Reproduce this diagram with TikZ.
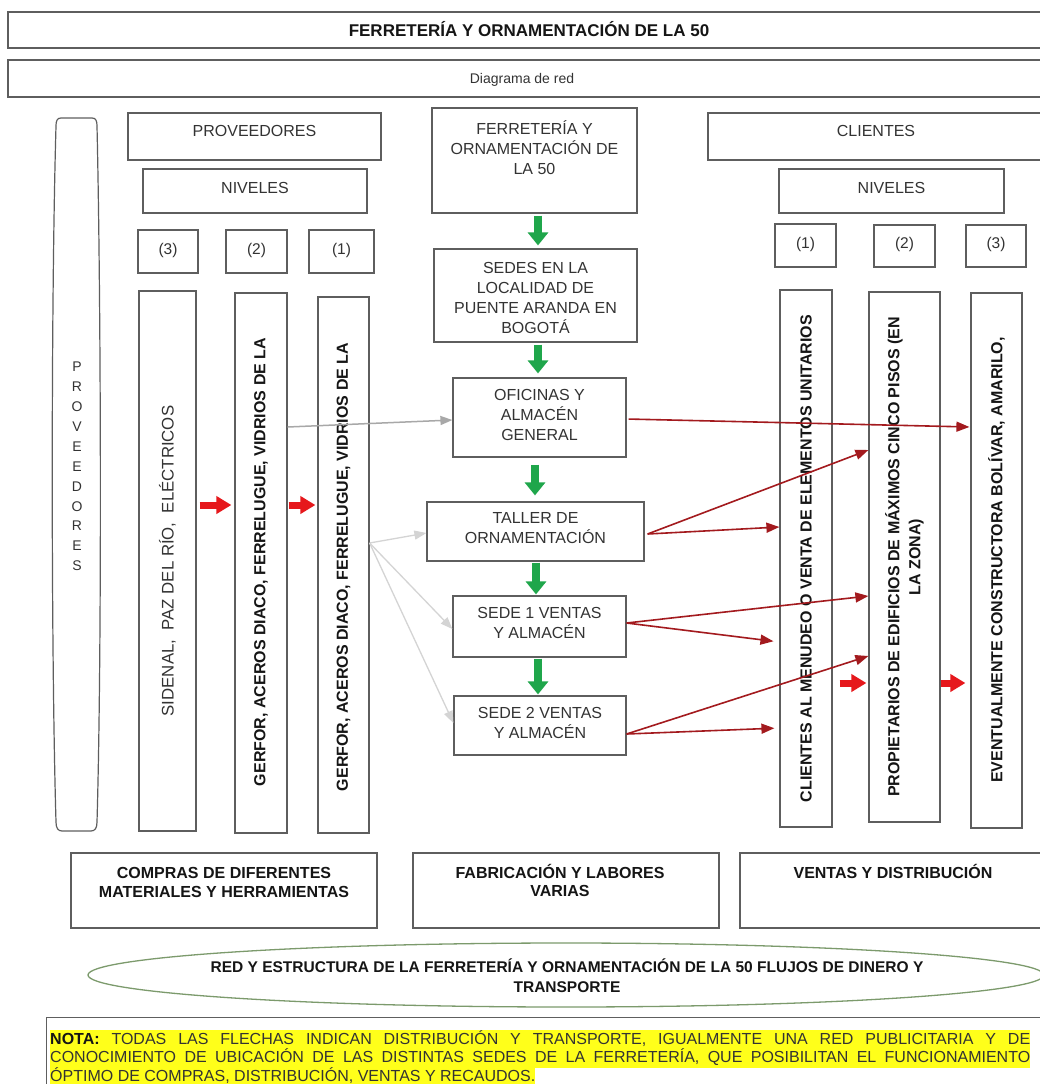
\documentclass[tikz,border=0pt]{standalone}
\usepackage{fontspec}
\setmainfont{Liberation Sans}
\usetikzlibrary{arrows.meta,shapes.geometric}

\definecolor{boxline}{HTML}{5E5E5E}
\definecolor{txtcol}{HTML}{333333}
\definecolor{txtdark}{HTML}{151515}
\definecolor{flowred}{HTML}{A31A1E}
\definecolor{blockred}{HTML}{E6181C}
\definecolor{blockgreen}{HTML}{1FA64B}
\definecolor{feedgray}{HTML}{A8A8A8}
\definecolor{feedlight}{HTML}{D4D4D4}
\definecolor{ovalgreen}{HTML}{7C9A6C}
\definecolor{notehl}{HTML}{FFFF1A}

\newcommand{\setfs}[2]{\fontsize{#1}{#2}\selectfont}
\setlength{\fboxsep}{0pt}

\begin{document}
\begin{tikzpicture}[x=1pt, y=-1pt,
  frame/.style={draw=boxline, line width=1.2pt, inner sep=0pt},
  txt/.style={inner sep=0pt, text=txtcol, align=center, font=\setfs{16}{20}},
  btxt/.style={inner sep=0pt, text=txtdark, align=center, font=\setfs{16}{20}\bfseries},
  onbase/.style={anchor=base},
  flow/.style={draw=flowred, line width=1.6pt, -{Triangle[length=13pt,width=10pt]}},
  feed/.style={draw=feedgray, line width=1.5pt, -{Triangle[length=12pt,width=9pt]}},
  feedl/.style={draw=feedlight, line width=1.3pt, -{Triangle[length=12pt,width=9pt]}},
  gblock/.style={draw=blockgreen, line width=8pt, -{Triangle[length=13pt,width=20pt]}},
  rblock/.style={draw=blockred, line width=7pt, -{Triangle[length=15pt,width=17pt]}},
]
\fill[white] (0,0) rectangle (1040,1084);
\useasboundingbox (0,0) rectangle (1040,1084);

% ---------- heading bars ----------
\node[frame, minimum width=1034pt, minimum height=36pt] (title) at (525,30) {};
\node[btxt, onbase, font=\setfs{17}{20}\bfseries] (titleT) at (529,36) {FERRETERÍA Y ORNAMENTACIÓN DE LA 50};
\node[frame, minimum width=1034pt, minimum height=37pt] (diag) at (525,78.5) {};
\node[txt, onbase, font=\setfs{14}{18}] (diagT) at (522,83) {Diagrama de red};

% ---------- suppliers side ----------
\draw[boxline, line width=1.2pt]
  (61,118) -- (92,118) .. controls (96,118) and (97,121) .. (97,126)
  .. controls (101,300) and (102,650) .. (97,822)
  .. controls (97,828) and (95,831) .. (91,831) -- (62,831)
  .. controls (58,831) and (56,828) .. (56,822)
  .. controls (51,650) and (51,300) .. (56,126)
  .. controls (56,121) and (57,118) .. (61,118) -- cycle;
\node[txt, font=\setfs{14}{19.9}] (capT) at (77,466.5) {P\\R\\O\\V\\E\\E\\D\\O\\R\\E\\S};

\node[frame, minimum width=253pt, minimum height=47pt] (provH) at (254.5,136.5) {};
\node[txt, onbase] (provHT) at (254.5,136.7) {PROVEEDORES};
\node[frame, minimum width=224pt, minimum height=44pt] (nivL) at (255,191) {};
\node[txt, onbase] (nivLT) at (255,193.7) {NIVELES};
\node[frame, minimum width=60pt, minimum height=43pt] (lv3) at (168,251.5) {};
\node[txt, onbase, font=\setfs{15.5}{18}] (lv3T) at (168,254.5) {(3)};
\node[frame, minimum width=61pt, minimum height=43pt] (lv2) at (256.5,251.5) {};
\node[txt, onbase, font=\setfs{15.5}{18}] (lv2T) at (256.5,254.5) {(2)};
\node[frame, minimum width=65pt, minimum height=43pt] (lv1) at (341.5,251.5) {};
\node[txt, onbase, font=\setfs{15.5}{18}] (lv1T) at (341.5,254.5) {(1)};

\node[frame, minimum width=57pt, minimum height=540pt] (sid) at (167.5,561) {};
\node[txt, rotate=90, font=\setfs{16.8}{20}] (sidT) at (sid.center) {SIDENAL,\ \ PAZ DEL RÍO,\ \ ELÉCTRICOS};
\node[frame, minimum width=52pt, minimum height=540pt] (g2) at (261,563) {};
\node[btxt, rotate=90] (g2T) at (261,562) {GERFOR, ACEROS DIACO, FERRELUGUE, VIDRIOS DE LA};
\node[frame, minimum width=51pt, minimum height=536pt] (g1) at (343.5,565) {};
\node[btxt, rotate=90] (g1T) at (343.5,567) {GERFOR, ACEROS DIACO, FERRELUGUE, VIDRIOS DE LA};

% ---------- company column ----------
\node[frame, minimum width=205pt, minimum height=105pt] (mid1) at (534.5,160.5) {};
\node[txt] (mid1T) at (534.5,147.5) {FERRETERÍA Y\\ORNAMENTACIÓN DE\\LA 50};
\node[frame, minimum width=203pt, minimum height=93pt] (sedes) at (535.5,295.5) {};
\node[txt] (sedesT) at (535.5,297.5) {SEDES EN LA\\LOCALIDAD DE\\PUENTE ARANDA EN\\BOGOTÁ};
\node[frame, minimum width=173pt, minimum height=79pt] (ofic) at (539.5,417.5) {};
\node[txt] (oficT) at (539.5,415) {OFICINAS Y\\ALMACÉN\\GENERAL};
\node[frame, minimum width=217pt, minimum height=59pt] (taller) at (535.5,531.5) {};
\node[txt] (tallerT) at (535.5,528) {TALLER DE\\ORNAMENTACIÓN};
\node[frame, minimum width=173pt, minimum height=61pt] (sede1) at (539.5,626.5) {};
\node[txt] (sede1T) at (539.5,623) {SEDE 1 VENTAS\\Y ALMACÉN};
\node[frame, minimum width=172pt, minimum height=59pt] (sede2) at (540,725.5) {};
\node[txt] (sede2T) at (540,723) {SEDE 2 VENTAS\\Y ALMACÉN};

% ---------- customers side ----------
\node[frame, minimum width=334pt, minimum height=47pt] (cliH) at (875,136.5) {};
\node[txt, onbase] (cliHT) at (876,136.7) {CLIENTES};
\node[frame, minimum width=225pt, minimum height=44pt] (nivR) at (891.5,191) {};
\node[txt, onbase] (nivRT) at (891.5,193.7) {NIVELES};
\node[frame, minimum width=61pt, minimum height=43pt] (rv1) at (805.5,245.5) {};
\node[txt, onbase, font=\setfs{15.5}{18}] (rv1T) at (805.5,248.5) {(1)};
\node[frame, minimum width=61pt, minimum height=42pt] (rv2) at (904.5,246) {};
\node[txt, onbase, font=\setfs{15.5}{18}] (rv2T) at (904.5,248.5) {(2)};
\node[frame, minimum width=60pt, minimum height=42pt] (rv3) at (996,246) {};
\node[txt, onbase, font=\setfs{15.5}{18}] (rv3T) at (996,248.5) {(3)};

\node[frame, minimum width=52pt, minimum height=537pt] (cliV) at (806,558.5) {};
\node[btxt, rotate=90] (cliVT) at (806,558.5) {CLIENTES AL MENUDEO O VENTA DE ELEMENTOS UNITARIOS};
\node[frame, minimum width=71pt, minimum height=530pt] (propV) at (904.5,557) {};
\node[btxt, rotate=90, font=\setfs{16}{21}\bfseries] (propVT) at (904.5,557) {PROPIETARIOS DE EDIFICIOS DE MÁXIMOS CINCO PISOS (EN\\LA ZONA)};
\node[frame, minimum width=51pt, minimum height=535pt] (evenV) at (996.5,560.5) {};
\node[btxt, rotate=90] (evenVT) at (996.5,560) {EVENTUALMENTE CONSTRUCTORA BOLÍVAR, AMARILO,};

% ---------- stage boxes ----------
\node[frame, minimum width=306pt, minimum height=75pt] (compras) at (224,890.5) {};
\node[btxt, font=\setfs{16}{19}\bfseries] (comprasT) at (224,882.5) {COMPRAS DE DIFERENTES\\MATERIALES Y HERRAMIENTAS};
\node[frame, minimum width=306pt, minimum height=75pt] (fabric) at (566,890.5) {};
\node[btxt, font=\setfs{16}{18}\bfseries] (fabricT) at (560,880.5) {FABRICACIÓN Y LABORES\\VARIAS};
\node[frame, minimum width=302pt, minimum height=75pt] (ventas) at (891,890.5) {};
\node[btxt, onbase] (ventasT) at (893,878.7) {VENTAS Y DISTRIBUCIÓN};

\node[draw=ovalgreen, line width=1.3pt, ellipse, inner sep=0pt, minimum width=956pt, minimum height=64pt] (oval) at (566,975) {};
\node[btxt, font=\setfs{15.5}{20}\bfseries] (ovalT) at (567,975.5) {RED Y ESTRUCTURA DE LA FERRETERÍA Y ORNAMENTACIÓN DE LA 50 FLUJOS DE DINERO Y\\TRANSPORTE};

% ---------- note ----------
\node[frame, anchor=north west, minimum width=1000pt, minimum height=90pt] (notebox) at (46,1017) {};
\node[anchor=north west, inner sep=0pt, text=txtcol, font=\setfs{16}{16.6}] (noteT) at (50,1030)
  {\vbox{\offinterlineskip
   \hbox{\colorbox{notehl}{\strut\makebox[980pt][s]{\textcolor{txtdark}{\bfseries NOTA:} TODAS LAS FLECHAS INDICAN DISTRIBUCIÓN Y TRANSPORTE, IGUALMENTE UNA RED PUBLICITARIA Y DE}}}
   \hbox{\colorbox{notehl}{\strut\makebox[980pt][s]{CONOCIMIENTO DE UBICACIÓN DE LAS DISTINTAS SEDES DE LA FERRETERÍA, QUE POSIBILITAN EL FUNCIONAMIENTO}}}
   \hbox{\colorbox{notehl}{\strut ÓPTIMO DE COMPRAS, DISTRIBUCIÓN, VENTAS Y RECAUDOS.}}}};

% ---------- green chain down the company column ----------
\draw[gblock, shorten <=2pt, shorten >=3pt] ([xshift=3.5pt]mid1.south) -- ([xshift=3.5pt]mid1.south |- sedes.north);
\draw[gblock, shorten <=2pt, shorten >=4pt] ([xshift=2.5pt]sedes.south) -- ([xshift=2.5pt]sedes.south |- ofic.north);
\draw[gblock, shorten <=7pt, shorten >=6pt] ([xshift=-4.5pt]ofic.south) -- ([xshift=-4.5pt]ofic.south |- taller.north);
\draw[gblock, shorten <=1pt, shorten >=1pt] ([xshift=0.5pt]taller.south) -- ([xshift=0.5pt]taller.south |- sede1.north);
\draw[gblock, shorten <=1pt, shorten >=1pt] ([xshift=-1.5pt]sede1.south) -- ([xshift=-1.5pt]sede1.south |- sede2.north);

% ---------- red block arrows between levels ----------
\draw[rblock, shorten <=3pt, shorten >=3pt] ([yshift=56pt]sid.east) -- ([yshift=56pt]sid.east -| g2.west);
\draw[rblock, shorten <=1pt, shorten >=2pt] ([yshift=58pt]g2.east) -- ([yshift=58pt]g2.east -| g1.west);
\draw[rblock, shorten <=7pt, shorten >=2pt] ([yshift=-124.5pt]cliV.east) -- ([yshift=-124.5pt]cliV.east -| propV.west);
\draw[rblock, shorten <=0pt, shorten >=5pt] ([yshift=-126pt]propV.east) -- ([yshift=-126pt]propV.east -| evenV.west);

% ---------- supply arrows ----------
\draw[feed] ([yshift=136pt]g2.east) -- ([yshift=-2.5pt]ofic.west);
\coordinate (fan) at ([yshift=22pt]g1.east);
\draw[feedl] (fan) -- ([yshift=-1.5pt]taller.west);
\draw[feedl] (fan) -- ([yshift=-2.5pt]sede1.west);
\draw[feedl] (fan) -- ([yshift=2.5pt]sede2.west);

% ---------- distribution arrows ----------
\draw[flow, shorten <=2pt, shorten >=1pt] ([yshift=-1.5pt]ofic.east) -- ([yshift=133.5pt]evenV.west);
\coordinate (tOut) at ([xshift=3pt,yshift=-2.5pt]taller.east);
\draw[flow] (tOut) -- ([yshift=107pt]propV.west);
\draw[flow] (tOut) -- ([yshift=31.5pt]cliV.west);
\draw[flow] ([yshift=3.5pt]sede1.east) -- ([yshift=-39pt]propV.west);
\draw[flow, shorten >=6pt] ([yshift=3.5pt]sede1.east) -- ([yshift=-83.5pt]cliV.west);
\draw[flow] ([yshift=-8.5pt]sede2.east) -- ([yshift=-99pt]propV.west);
\draw[flow, shorten >=5pt] ([yshift=-8.5pt]sede2.east) -- ([yshift=-169.5pt]cliV.west);
\end{tikzpicture}
\end{document}
